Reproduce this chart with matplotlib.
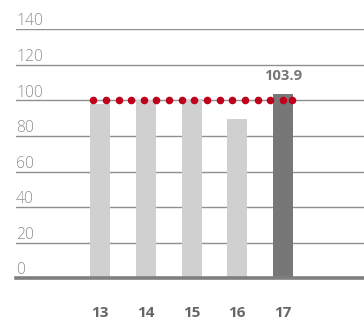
import numpy as np
import matplotlib
matplotlib.use("Agg")
import matplotlib.pyplot as plt
import matplotlib.transforms as mtransforms

categories = ["13", "14", "15", "16", "17"]
values = [98.0, 100.5, 101.0, 89.5, 103.9]
target = 100
highlight_label = "103.9"
yticks = [0, 20, 40, 60, 80, 100, 120, 140]

W, H = 364, 320
fig = plt.figure(figsize=(W / 100, H / 100), dpi=100)
ax = fig.add_axes([16 / W, (H - 278.3) / H, 1 - 16 / W, 249 / H])
ax.set_ylim(0, 140)
ax.set_xlim(-1.836, 5.77)
ax.axis("off")

x = np.arange(len(categories))
bw = 20 / 45.75
colors = ["#d0d0d0"] * (len(categories) - 1) + ["#777777"]

ytr = mtransforms.blended_transform_factory(ax.transAxes, ax.transData)
for t in yticks:
    if t > 0:
        ax.axhline(t, color="#8f8f8f", lw=1.0, zorder=1)
    ax.text(0.0, t + 2.2, str(t), transform=ytr, ha="left", va="baseline", fontsize=11.3,
            color="#8e8e8e", family="Open Sans", fontweight="light")

ax.bar(x, values, width=bw, color=colors, zorder=2)
ax.axhline(0, color="#7f7f7f", lw=2.6, zorder=3, clip_on=False)

# target dotted line
x0 = x[0] - bw / 2 + 3.3 / 45.75
x1 = x[-1] + bw / 2 - 1 / 45.75
step = 12.63 / 45.75
dots = np.append(np.arange(x0, x1 - step * 0.5, step), x1)
ax.scatter(dots, np.full(len(dots), target), s=30, color="#c0001a", zorder=4, linewidths=0)

# value label
ax.text(x[-1], values[-1] + 6, highlight_label, ha="center", va="bottom", fontsize=10.6,
        fontweight="bold", color="#777777", family="Open Sans")

tr = mtransforms.blended_transform_factory(ax.transData, fig.transFigure)
for xi, c in zip(x, categories):
    ax.text(xi, (H - 313) / H, c, transform=tr, ha="center", va="center", fontsize=11,
            fontweight="bold", color="#666666", family="Open Sans")

fig.savefig("out.png", dpi=100)
